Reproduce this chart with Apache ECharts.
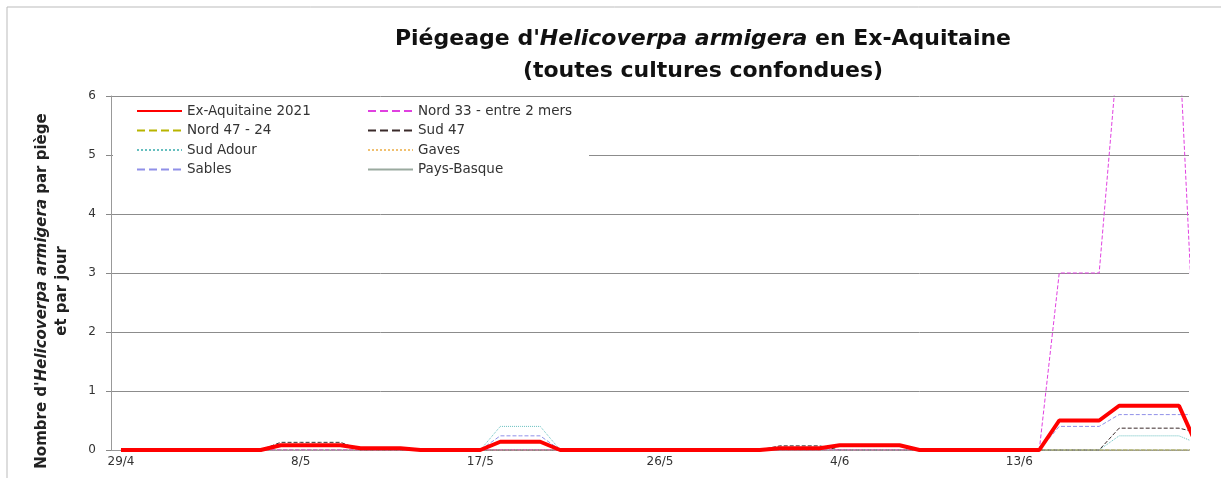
<!DOCTYPE html>
<html lang="fr">
<head>
<meta charset="UTF-8">
<title>Piégeage d'Helicoverpa armigera</title>
<script src="https://cdn.jsdelivr.net/npm/echarts@6/dist/echarts.min.js"></script>
<style>
  body { margin: 0; padding: 0; background: #ffffff; }
  #chart { width: 1221px; height: 478px; }
</style>
</head>
<body>
<div id="chart"></div>
<script>
// dates du piégeage (22/6 existe dans les données mais sort de l'axe)
const dates = ['29/4','30/4',
  '1/5','2/5','3/5','4/5','5/5','6/5','7/5','8/5','9/5','10/5','11/5','12/5','13/5','14/5','15/5','16/5',
  '17/5','18/5','19/5','20/5','21/5','22/5','23/5','24/5','25/5','26/5','27/5','28/5','29/5','30/5','31/5',
  '1/6','2/6','3/6','4/6','5/6','6/6','7/6','8/6','9/6','10/6','11/6','12/6','13/6','14/6','15/6','16/6',
  '17/6','18/6','19/6','20/6','21/6','22/6'];

const exAquitaine = [0,0,0,0,0,0,0,0,0.08,0.08,0.08,0.08,0.03,0.03,0.03,0,0,0,0,0.14,0.14,0.14,0,0,0,0,0,0,0,0,0,0,0,0.03,0.03,0.03,0.08,0.08,0.08,0.08,0,0,0,0,0,0,0,0.5,0.5,0.5,0.75,0.75,0.75,0.75,0];
const nord33 = [0,0,0,0,0,0,0,0,0,0,0,0,0,0,0,0,0,0,0,0,0,0,0,0,0,0,0,0,0,0,0,0,0,0,0,0,0,0,0,0,0,0,0,0,0,0,0,3,3,3,7,7,7,7,0];
const nord4724 = [0,0,0,0,0,0,0,0,0,0,0,0,0,0,0,0,0,0,0,0,0,0,0,0,0,0,0,0,0,0,0,0,0,0,0,0,0,0,0,0,0,0,0,0,0,0,0,0,0,0,0,0,0,0,0];
const sud47 = [0,0,0,0,0,0,0,0,0.13,0.13,0.13,0.13,0,0,0,0,0,0,0,0,0,0,0,0,0,0,0,0,0,0,0,0,0,0.07,0.07,0.07,0,0,0,0,0,0,0,0,0,0,0,0,0,0,0.37,0.37,0.37,0.37,0.29];
const sudAdour = [0,0,0,0,0,0,0,0,0,0,0,0,0,0,0,0,0,0,0,0.4,0.4,0.4,0,0,0,0,0,0,0,0,0,0,0,0,0,0,0,0,0,0,0,0,0,0,0,0,0,0,0,0,0.24,0.24,0.24,0.24,0.1];
const gaves = [0,0,0,0,0,0,0,0,0,0,0,0,0,0,0,0,0,0,0,0,0,0,0,0,0,0,0,0,0,0,0,0,0,0,0,0,0,0,0,0,0,0,0,0,0,0,0,0,0,0,0,0,0,0,0];
const sables = [0,0,0,0,0,0,0,0,0,0,0,0,0,0,0,0,0,0,0,0.24,0.24,0.24,0,0,0,0,0,0,0,0,0,0,0,0,0,0,0,0,0,0,0,0,0,0,0,0,0,0.4,0.4,0.4,0.6,0.6,0.6,0.6,0.6];
const paysBasque = [0,0,0,0,0,0,0,0,0,0,0,0,0,0,0,0,0,0,0,0,0,0,0,0,0,0,0,0,0,0,0,0,0,0,0,0,0,0,0,0,0,0,0,0,0,0,0,0,0,0,0,0,0,0,0];

const yTicks = [0, 1, 2, 3, 4, 5, 6];

// police large : le graphique d'origine est étiré en largeur
const font = '"DejaVu Sans", sans-serif';
const chart = echarts.init(document.getElementById('chart'));

function serie(name, data, color, width, type, z) {
  return {
    name: name,
    type: 'line',
    data: data,
    symbol: 'none',
    clip: true,
    z: z || 2,
    itemStyle: { color: color },
    lineStyle: { color: color, width: width, type: type }
  };
}

const legendText = { fontFamily: font, fontSize: 13.5, color: '#333' };

chart.setOption({
  animation: false,
  backgroundColor: '#fff',
  title: {
    left: 698,
    top: 18,
    textAlign: 'center',
    text: "{b|Piégeage d'}{i|Helicoverpa armigera}{b| en Ex-Aquitaine}\n{b|(toutes cultures confondues)}",
    textStyle: {
      lineHeight: 32,
      rich: {
        b: { fontFamily: font, fontSize: 22, fontWeight: 'bold', color: '#111', lineHeight: 32 },
        i: { fontFamily: font, fontSize: 22, fontWeight: 'bold', fontStyle: 'italic', color: '#111', lineHeight: 32 }
      }
    }
  },
  graphic: [{
    type: 'rect',
    shape: { x: 7, y: 7, width: 1240, height: 500 },
    style: { fill: 'none', stroke: '#bbb', lineWidth: 1 },
    silent: true
  }, {
    type: 'rect',
    shape: { x: 113, y: 98, width: 476, height: 86 },
    style: { fill: '#fff' },
    z: 5,
    silent: true
  }],
  legend: [{
    orient: 'vertical',
    left: 131, top: 99,
    itemWidth: 45, itemHeight: 12, itemGap: 5.5,
    itemStyle: { opacity: 0 },
    textStyle: legendText,
    z: 6,
    data: ['Ex-Aquitaine 2021', 'Nord 47 - 24', 'Sud Adour', 'Sables']
  }, {
    orient: 'vertical',
    left: 362, top: 99,
    itemWidth: 45, itemHeight: 12, itemGap: 5.5,
    itemStyle: { opacity: 0 },
    textStyle: legendText,
    z: 6,
    data: ['Nord 33 - entre 2 mers', 'Sud 47', 'Gaves', 'Pays-Basque']
  }],
  grid: { left: 111, right: 32, top: 96, bottom: 28 },
  xAxis: {
    type: 'category',
    data: dates,
    boundaryGap: true,
    max: 53,
    axisLine: { lineStyle: { color: '#999' } },
    axisTick: { interval: 8, length: 4, lineStyle: { color: '#888' } },
    axisLabel: { interval: 8, margin: 6, fontFamily: font, fontSize: 12, color: '#333' },
    splitLine: { show: false }
  },
  yAxis: {
    type: 'value',
    min: yTicks[0],
    max: yTicks[yTicks.length - 1],
    interval: 1,
    name: "{b|Nombre d'}{i|Helicoverpa armigera}{b| par piège}\n{b|et par jour}",
    nameLocation: 'middle',
    nameRotate: 90,
    nameGap: 39,
    nameTextStyle: {
      lineHeight: 20,
      padding: [0, 36, 0, 0],
      rich: {
        b: { fontFamily: font, fontSize: 15, fontWeight: 'bold', color: '#222', lineHeight: 20 },
        i: { fontFamily: font, fontSize: 15, fontWeight: 'bold', fontStyle: 'italic', color: '#222', lineHeight: 20 }
      }
    },
    axisLine: { show: true, lineStyle: { color: '#999' } },
    axisTick: { show: true, inside: false, length: 5, lineStyle: { color: '#888' } },
    axisLabel: { margin: 15, fontFamily: font, fontSize: 12, color: '#333' },
    splitLine: { lineStyle: { color: '#8c8c8c', width: 1 } }
  },
  series: [
    serie('Nord 47 - 24', nord4724, '#b8b400', 1, 'dashed'),
    serie('Sud Adour', sudAdour, '#66bfbf', 1, 'dotted'),
    serie('Sables', sables, '#9090e8', 1, 'dashed'),
    serie('Sud 47', sud47, '#3a2a2a', 1, 'dashed'),
    serie('Gaves', gaves, '#f0c070', 1, 'dotted'),
    serie('Pays-Basque', paysBasque, '#9aaa9f', 1, 'solid'),
    serie('Nord 33 - entre 2 mers', nord33, '#e040e0', 1, 'dashed'),
    serie('Ex-Aquitaine 2021', exAquitaine, '#ff0000', 4, 'solid', 3)
  ]
});
</script>
</body>
</html>
